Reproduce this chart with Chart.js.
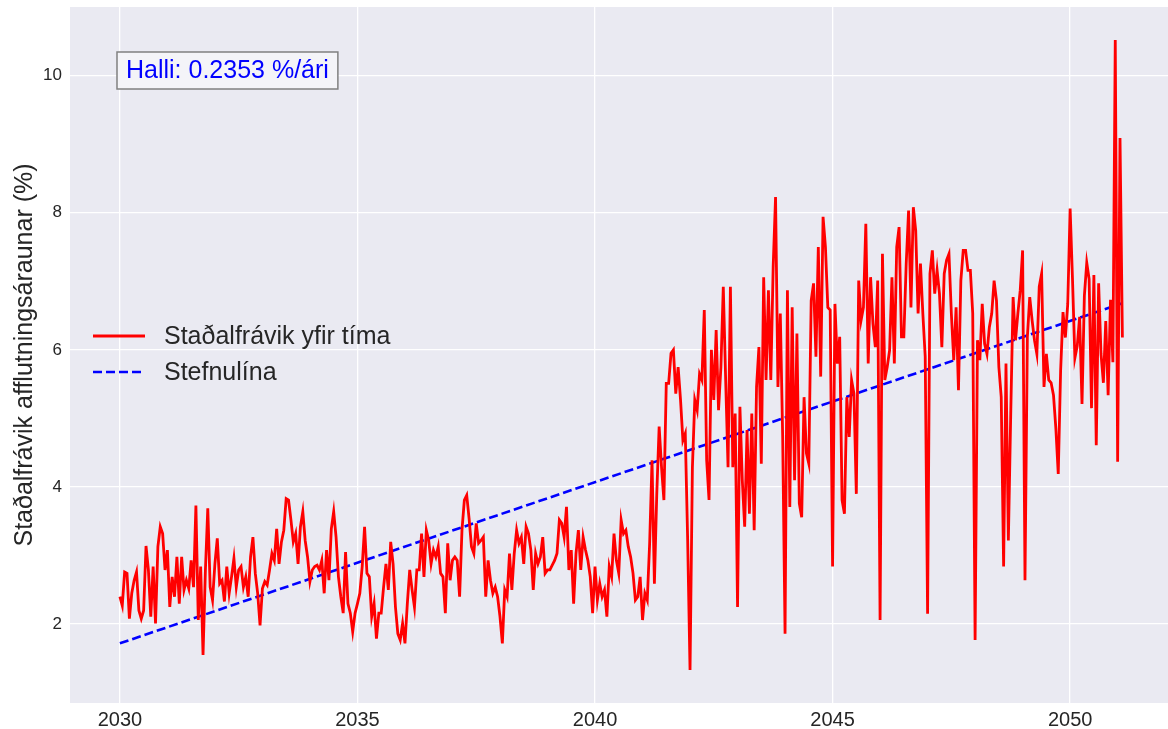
<!DOCTYPE html>
<html>
<head>
<meta charset="utf-8">
<script src="https://cdn.jsdelivr.net/npm/chart.js@4"></script>
<style>
  html, body { margin: 0; padding: 0; background: #ffffff; }
  #wrap { width: 1168px; height: 729px; }
</style>
</head>
<body>
<div id="wrap"><canvas id="stdChart" width="1168" height="729"></canvas></div>
<script>
// tími: jafnt bil frá 2030, 0.05 ár á milli punkta
const startYear = 2030;
const stepYears = 0.05;

// staðalfrávik (%) lesið af myndinni
const stdValues = [
  2.40, 2.27, 2.76, 2.74, 2.08, 2.45, 2.64, 2.76, 2.20, 2.08,
  2.20, 3.14, 2.79, 2.11, 2.84, 2.01, 3.13, 3.42, 3.32, 2.79,
  3.08, 2.25, 2.69, 2.40, 2.98, 2.30, 2.98, 2.50, 2.64, 2.52,
  2.93, 2.54, 3.73, 2.06, 2.84, 1.55, 2.79, 3.69, 2.54, 2.35,
  2.88, 3.25, 2.59, 2.64, 2.33, 2.84, 2.45, 2.69, 2.96, 2.54,
  2.79, 2.84, 2.54, 2.69, 2.40, 2.98, 3.27, 2.74, 2.45, 1.98,
  2.52, 2.62, 2.57, 2.79, 3.03, 2.93, 3.39, 2.88, 3.20, 3.37,
  3.83, 3.81, 3.52, 3.20, 3.32, 2.88, 3.42, 3.64, 3.22, 2.98,
  2.62, 2.79,
  2.84, 2.86, 2.79, 2.93, 2.45, 3.08, 2.64, 3.39, 3.64, 3.27,
  2.69, 2.40, 2.16, 3.05, 2.30, 2.16, 1.89, 2.16, 2.30, 2.45,
  2.84, 3.42, 2.74, 2.69, 2.11, 2.30, 1.79, 2.16, 2.16, 2.54,
  2.88, 2.50, 3.20, 2.88, 2.25, 1.86, 1.77, 2.01, 1.72, 2.30,
  2.79,
  2.50, 2.25, 2.79, 2.79, 3.32, 2.69, 3.37, 3.22, 2.88, 3.08,
  2.98, 3.13, 2.74, 2.69, 2.16, 3.18, 2.64, 2.93, 2.98, 2.93,
  2.40, 3.37, 3.81, 3.88, 3.54, 3.13, 3.03, 3.47, 3.18, 3.22,
  3.27, 2.40, 2.93, 2.64, 2.45, 2.54, 2.40, 2.11, 1.72, 2.50,
  2.40, 3.03,
  2.50, 3.03, 3.37, 3.18, 3.27, 2.88, 3.42, 3.32, 3.08, 2.50,
  3.03, 2.88, 2.98, 3.27, 2.74, 2.79, 2.79, 2.86, 2.93, 3.03,
  3.52, 3.47, 3.27, 3.71, 2.79, 3.08, 2.30, 3.03, 3.37, 2.79,
  3.27, 3.08, 2.93, 2.69, 2.16, 2.84, 2.35, 2.59, 2.40, 2.50,
  2.11, 2.84,
  2.69, 3.32, 2.93, 2.74, 3.52, 3.32, 3.37, 3.13, 2.98, 2.74,
  2.35, 2.40, 2.69, 2.06, 2.45, 2.35, 3.18, 4.39, 2.59, 3.90,
  4.88, 4.29, 3.81, 5.51, 5.51, 5.95, 6.00, 5.36, 5.75, 5.27,
  4.68, 4.78, 3.23, 1.33, 4.29, 5.27, 5.12, 5.65, 5.56, 6.58,
  4.39, 3.81, 6.00, 5.27, 6.29, 5.12,
  5.75, 6.92, 5.56, 4.29, 6.92, 4.29, 5.07, 2.25, 5.17, 4.10,
  3.42, 4.83, 3.61, 5.07, 3.37, 5.46, 6.04, 4.34, 7.06, 5.56,
  6.87, 5.56, 7.21, 8.23, 5.46, 6.53, 4.73, 1.86, 6.87, 3.71,
  6.62, 4.10, 6.24, 3.76, 3.56, 5.31, 4.49, 4.34, 6.72, 6.97,
  5.90, 7.50, 5.61, 7.94, 7.50, 6.62,
  6.58, 2.84, 6.67, 5.80, 6.19, 3.81, 3.61, 5.31, 4.73, 5.56,
  5.36, 3.90, 7.01, 6.43, 6.62, 7.84, 5.80, 7.06, 6.38, 6.04,
  7.01, 2.06, 7.40, 5.56, 5.75, 5.99, 7.06, 5.80, 7.50, 7.79,
  6.19, 6.19, 7.26, 8.03, 6.62, 8.08, 7.74, 6.53, 7.26, 6.53,
  5.90, 2.15, 7.11, 7.45, 6.82, 7.16, 6.82,
  6.04, 7.11, 7.31, 7.40, 6.53, 5.85, 6.62, 5.41, 7.01, 7.45,
  7.45, 7.16, 7.16, 6.53, 1.77, 6.14, 5.85, 6.67, 6.09, 5.94,
  6.33, 6.53, 7.01, 6.72, 5.75, 5.31, 2.84, 5.80, 3.22, 5.07,
  6.77, 6.14, 6.53, 6.87, 7.45, 2.64, 6.19, 6.77, 6.43, 6.14,
  5.94, 6.92, 7.11, 5.46, 5.94, 5.56,
  5.52, 5.34, 4.85, 4.19, 5.70, 6.55, 6.18, 6.67, 8.06, 7.03,
  5.88, 6.06, 6.48, 5.21, 6.79, 7.27, 7.03, 5.15, 7.09, 4.61,
  6.97, 5.94, 5.52, 6.42, 5.34, 6.73, 5.82, 10.52, 4.37, 9.09,
  6.18
];

// stefnulína: endapunktar
const trendYears = [2030, 2051.1];
const trendValues = [1.72, 6.68];

const seriesNames = ['Staðalfrávik yfir tíma', 'Stefnulína'];
const xTicks = [2030, 2035, 2040, 2045, 2050];
const yTicks = [2, 4, 6, 8, 10];
const yLabel = 'Staðalfrávik afflutningsáraunar (%)';
const slopeText = 'Halli: 0.2353 %/ári';

const FONT = '"Liberation Sans", Arial, sans-serif';
const TEXT = '#262626';

const stdPoints = stdValues.map((v, i) => ({ x: startYear + i * stepYears, y: v }));
const trendPoints = trendYears.map((x, i) => ({ x: x, y: trendValues[i] }));

// bakgrunnur, skýringar og hallatexti
const decor = {
    id: 'decor',
    beforeDraw(chart) {
        const c = chart.ctx, a = chart.chartArea;
        c.save();
        c.fillStyle = '#eaeaf2';
        c.fillRect(a.left, a.top, a.right - a.left, a.bottom - a.top);
        c.restore();
    },
    afterDraw(chart) {
        const c = chart.ctx, a = chart.chartArea;
        c.save();
        c.font = '25px ' + FONT;
        c.textBaseline = 'middle';

        // hallabox
        const tw = c.measureText(slopeText).width;
        const bx = a.left + 47, by = a.top + 45;
        c.fillStyle = '#f4f4f8';
        c.fillRect(bx, by, tw + 18, 37);
        c.strokeStyle = '#808080';
        c.lineWidth = 1.5;
        c.strokeRect(bx, by, tw + 18, 37);
        c.fillStyle = '#0000ff';
        c.fillText(slopeText, bx + 9, by + 19);

        // skýringar
        const ds = chart.data.datasets;
        const lx = a.left + 23, ty = [336, 372];
        ds.forEach((d, k) => {
            c.strokeStyle = d.borderColor;
            c.lineWidth = d.borderWidth;
            c.setLineDash(d.borderDash || []);
            c.beginPath();
            c.moveTo(lx, ty[k]);
            c.lineTo(lx + 52, ty[k]);
            c.stroke();
            c.setLineDash([]);
            c.fillStyle = TEXT;
            c.fillText(d.label, lx + 71, ty[k] + 1);
        });
        c.restore();
    }
};

new Chart(document.getElementById('stdChart'), {
    type: 'line',
    data: {
        datasets: [{
            label: seriesNames[0],
            data: stdPoints,
            borderColor: '#ff0000',
            borderWidth: 2.8,
            pointRadius: 0,
            tension: 0,
            fill: false
        }, {
            label: seriesNames[1],
            data: trendPoints,
            borderColor: '#0000ff',
            borderWidth: 2.6,
            borderDash: [9, 4],
            pointRadius: 0,
            fill: false
        }]
    },
    options: {
        responsive: false,
        animation: false,
        devicePixelRatio: 1,
        layout: { padding: { top: 7, right: 0, left: 0, bottom: 0 } },
        plugins: { legend: { display: false }, tooltip: { enabled: false } },
        scales: {
            x: {
                type: 'linear',
                min: 2028.95,
                max: 2052.06,
                afterBuildTicks: (axis) => { axis.ticks = xTicks.map(v => ({ value: v })); },
                afterFit: (axis) => { axis.height = 26; axis.paddingLeft = 0; axis.paddingRight = 0; },
                grid: { color: '#ffffff', lineWidth: 1.3, drawTicks: false },
                border: { display: false },
                ticks: {
                    color: TEXT,
                    font: { family: FONT, size: 20 },
                    padding: 5,
                    maxRotation: 0,
                    callback: (v) => String(v)
                }
            },
            y: {
                min: 0.85,
                max: 11.0,
                afterBuildTicks: (axis) => { axis.ticks = yTicks.map(v => ({ value: v })); },
                afterFit: (axis) => { axis.width = 70; axis.paddingTop = 0; axis.paddingBottom = 0; },
                grid: { color: '#ffffff', lineWidth: 1.3, drawTicks: false },
                border: { display: false },
                ticks: { color: TEXT, font: { family: FONT, size: 17 }, padding: 8 },
                title: {
                    display: true,
                    text: yLabel,
                    color: TEXT,
                    font: { family: FONT, size: 25 },
                    padding: { top: 10, bottom: 0 }
                }
            }
        }
    },
    plugins: [decor]
});
</script>
</body>
</html>
